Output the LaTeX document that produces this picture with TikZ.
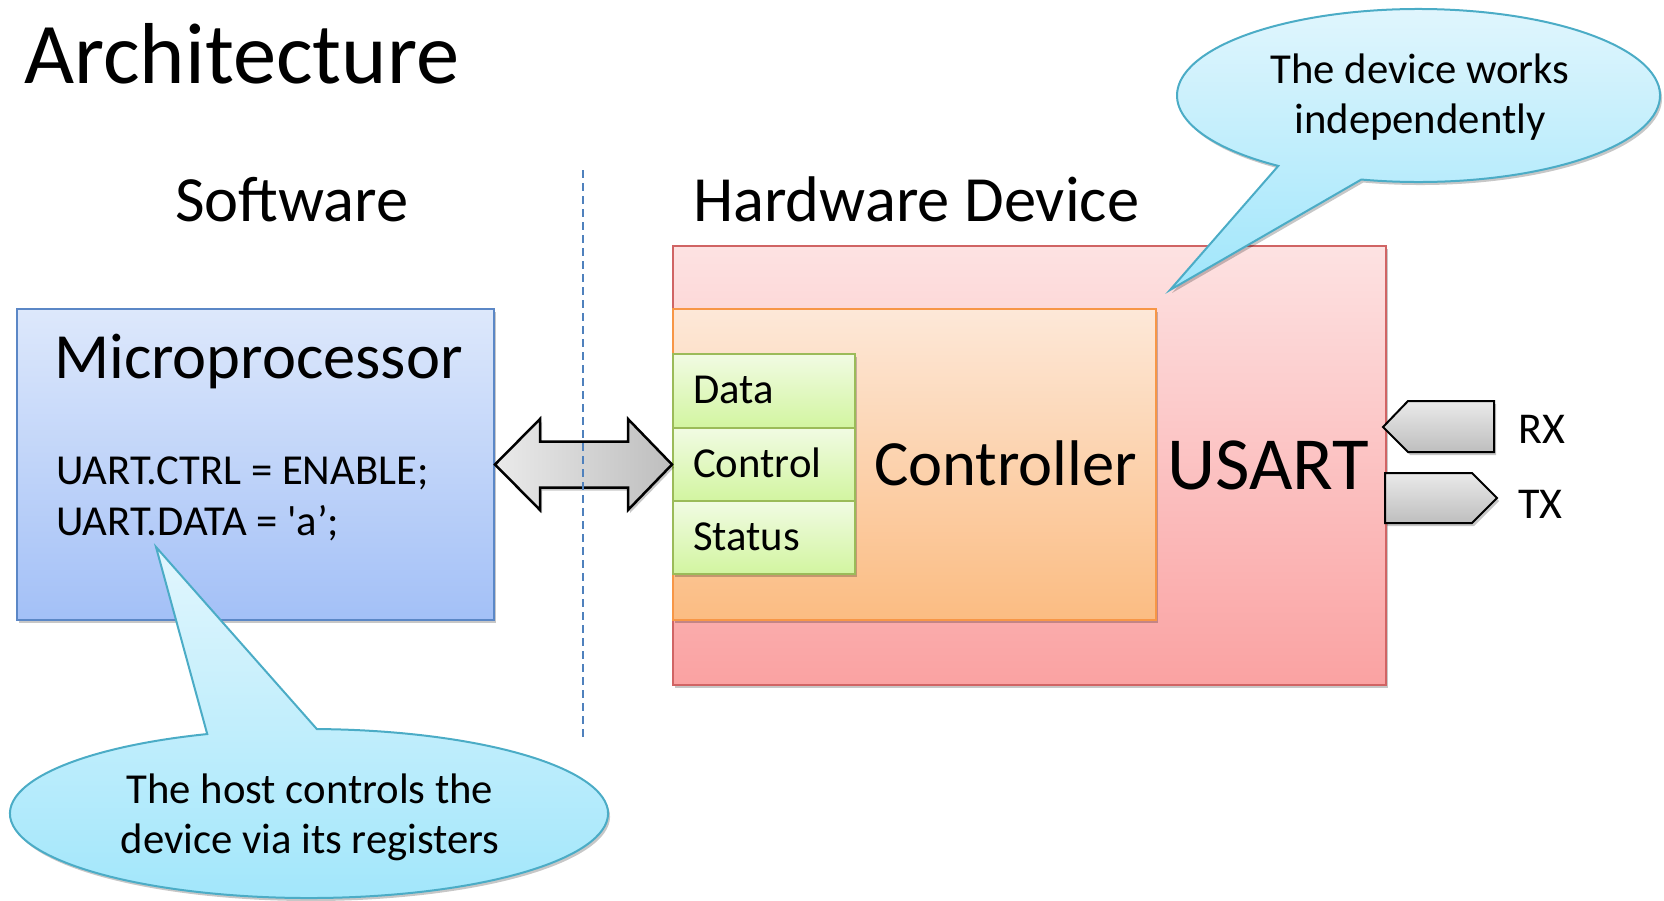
\documentclass[tikz,border=0pt]{standalone}
\usepackage{fontspec}
\setmainfont{Carlito}
\newfontfamily\rawfont{Carlito}[Ligatures=TeXOff]
\usetikzlibrary{calc,shadows}
\definecolor{microT}{HTML}{DDE8FB}
\definecolor{microBot}{HTML}{A3C0F7}
\definecolor{microB}{HTML}{5B87C6}
\definecolor{usartT}{HTML}{FDE2E2}
\definecolor{usartBot}{HTML}{FAA2A2}
\definecolor{usartB}{HTML}{D06464}
\definecolor{ctrlT}{HTML}{FDE8D8}
\definecolor{ctrlBot}{HTML}{FBBC82}
\definecolor{ctrlB}{HTML}{F79646}
\definecolor{regT}{HTML}{F1FBE3}
\definecolor{regBot}{HTML}{D2F5A0}
\definecolor{regB}{HTML}{9BBB59}
\definecolor{callT}{HTML}{E2F6FD}
\definecolor{callBot}{HTML}{A0E6FB}
\definecolor{callB}{HTML}{4BACC6}
\definecolor{dashC}{HTML}{4F81BD}
\definecolor{grayL}{HTML}{EAEAEA}
\definecolor{grayD}{HTML}{BEBEBE}
\begin{document}
\begin{tikzpicture}[x=1pt,y=1pt,
  shad/.style={drop shadow={shadow xshift=2pt,shadow yshift=-3pt,opacity=0.22,fill=black}},
  box/.style={draw,line width=2pt,inner sep=0pt,anchor=north west,shad},
  regbox/.style={box,draw=regB,top color=regT,bottom color=regBot,minimum width=182pt},
  txt/.style={inner sep=0pt,anchor=base west},
  ctxt/.style={inner sep=0pt,anchor=base},
  big/.style={font=\fontsize{64.5}{77}\selectfont},
  small/.style={font=\fontsize{42.7}{51}\selectfont},
  callout/.style={draw=callB,line width=2pt,top color=callT,bottom color=callBot,shad},
  port/.style={draw=black,line width=2pt,top color=grayL,bottom color=grayD,line join=miter,shad},
  divider/.style={draw=dashC,line width=2pt,dash pattern=on 8pt off 5pt}
]
\useasboundingbox (0,0) rectangle (1664,-900);

% titles
\node[txt,font=\fontsize{86.5}{100}\selectfont] (title) at (24,-83) {Architecture};
\node[txt,big] (sw) at (175,-221) {Software};
\node[txt,big] (hw) at (693,-221) {Hardware Device};

% microprocessor
\node[box,draw=microB,top color=microT,bottom color=microBot,minimum width=477pt,minimum height=311pt] (micro) at (16,-308) {};
\node[txt,big] (microlbl) at (54,-378) {Microprocessor};
\node[txt,small] (code1) at (56,-484) {UART.CTRL = ENABLE;};
\node[txt,small] (code2) at (56,-535) {UART.DATA = {\rawfont '}a’;};

% hardware
\node[box,draw=usartB,top color=usartT,bottom color=usartBot,minimum width=713pt,minimum height=439pt] (usart) at (672,-245) {};
\node[box,draw=ctrlB,top color=ctrlT,bottom color=ctrlBot,minimum width=483pt,minimum height=311pt] (ctrl) at (672,-308) {};
\node[regbox,minimum height=74pt] (rdata) at (672,-353) {};
\node[regbox,minimum height=73pt] (rctrl) at (672,-427) {};
\node[regbox,minimum height=73pt] (rstat) at (672,-500) {};
\node[txt,small] (tdata) at (693,-403) {Data};
\node[txt,small] (tctrl) at (693,-477) {Control};
\node[txt,small] (tstat) at (693,-550) {Status};
\node[txt,big] (ctrllbl) at (874,-485) {Controller};
\node[txt,font=\fontsize{75}{90}\selectfont] (usartlbl) at (1167,-489) {USART};

% double arrow between microprocessor and registers
\shade[draw=black,line width=2.5pt,left color=grayL,right color=grayD,line join=miter,shad]
  (micro.east) -- ++(45,45.5) -- ++(0,-22.5) -- ($(rctrl.west)+(-44,23)$) -- ++(0,22.5)
  -- (rctrl.west) -- ++(-44,-45.5) -- ++(0,22.5) -- ($(micro.east)+(45,-23)$) -- ++(0,-22.5) -- cycle;

% divider
\coordinate (dtop) at (583,-170);
\coordinate (dbot) at (583,-740);
\draw[divider] (dtop) -- (dbot);

% RX / TX ports
\coordinate (rxtip) at (1383,-427);
\coordinate (txbase) at (1385,-473);
\shade[port] (rxtip) -- ++(25,26) -- ++(86,0) -- ++(0,-51) -- ++(-86,0) -- cycle;
\shade[port] (txbase) -- ++(87,0) -- ++(25,-25) -- ++(-25,-25) -- ++(-87,0) -- cycle;
\node[txt,font=\fontsize{44}{52}\selectfont] (rx) at (1518,-443) {RX};
\node[txt,font=\fontsize{44}{52}\selectfont] (tx) at (1518,-518) {TX};

% callout 1
\coordinate (c1) at (1418.5,-95.5);
\coordinate (tip1) at (1170,-290);
\shade[callout] ($(c1)+(256.3:241.5 and 86.5)$) arc[start angle=256.3,end angle=594.5,x radius=241.5,y radius=86.5] -- (tip1) -- cycle;
\node[ctxt,small] (n1a) at (1420,-83) {The device works};
\node[ctxt,small] (n1b) at (1420,-133) {independently};

% callout 2
\coordinate (c2) at (309,-813.5);
\coordinate (tip2) at (156,-547);
\shade[callout] ($(c2)+(109.9:299 and 84.5)$) arc[start angle=109.9,end angle=448.5,x radius=299,y radius=84.5] -- (tip2) -- cycle;
\node[ctxt,small] (n2a) at (310,-803) {The host controls the};
\node[ctxt,small] (n2b) at (310,-853) {device via its registers};
\end{tikzpicture}
\end{document}
